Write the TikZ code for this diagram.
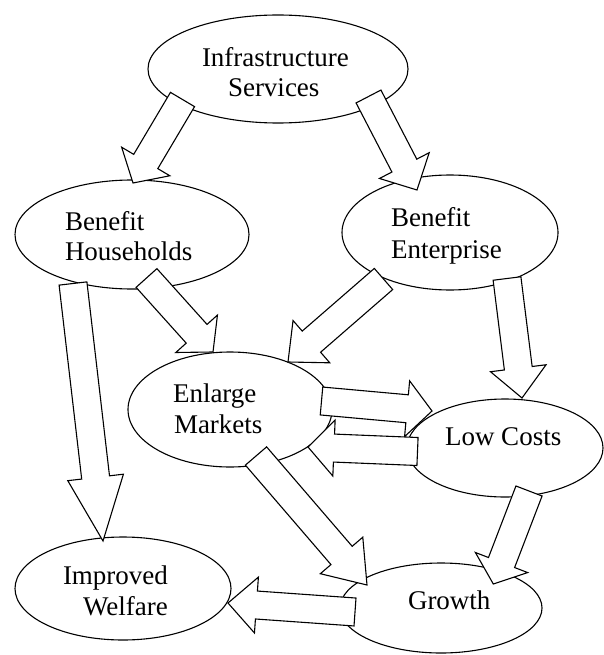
\documentclass[tikz,border=0pt]{standalone}
\usepackage{fontspec}
\setmainfont{Liberation Serif}
\usetikzlibrary{shapes.geometric,calc}
\tikzset{
  ell/.style={draw=black, line width=1.1pt, fill=white, ellipse, inner sep=0pt, outer sep=0pt},
  lbl/.style={anchor=base west, inner sep=0pt, outer sep=0pt, font=\fontsize{27}{31}\selectfont},
  barrow/.style={draw=black, line width=1.1pt, fill=white, line join=miter},
}
% block arrow: tail node, tail offset, tip node, tip offset, head length
\newcommand\blockarr[5]{%
  \coordinate (bt) at ($(#1)+(#2)$);
  \coordinate (bp) at ($(#3)+(#4)$);
  \coordinate (hb) at ($(bp)!#5pt!(bt)$);
  \draw[barrow] ($(bt)!14pt!90:(bp)$) -- ($(hb)!14pt!90:(bp)$) -- ($(hb)!28pt!90:(bp)$)
    -- (bp) -- ($(hb)!28pt!-90:(bp)$) -- ($(hb)!14pt!-90:(bp)$) -- ($(bt)!14pt!-90:(bp)$) -- cycle;}
\begin{document}
\begin{tikzpicture}[x=1pt,y=-1pt]
\useasboundingbox (0,0) rectangle (603,655);
\fill[white] (0,0) rectangle (603,655);
% ellipses
\node[ell, minimum width=260pt, minimum height=108pt] (infra) at (278,69) {};
\node[ell, minimum width=234pt, minimum height=109pt] (hh) at (132,234.5) {};
\node[ell, minimum width=216pt, minimum height=115pt] (ent) at (450,232.5) {};
\node[ell, minimum width=204pt, minimum height=115pt] (enl) at (230,409.5) {};
\node[ell, minimum width=196pt, minimum height=98pt] (lc) at (505,448) {};
\node[ell, minimum width=216pt, minimum height=103pt] (wel) at (123,588.5) {};
\node[ell, minimum width=202pt, minimum height=90pt] (gro) at (441,608) {};
% labels
\node[lbl] (infra1) at (202,67) {Infrastructure};
\node[lbl] (infra2) at (228,97) {Services};
\node[lbl] (hh1) at (65,230) {Benefit};
\node[lbl] (hh2) at (65,260) {Households};
\node[lbl] (ent1) at (391,226) {Benefit};
\node[lbl] (ent2) at (391,258) {Enterprise};
\node[lbl] (enl1) at (173,402) {Enlarge};
\node[lbl] (enl2) at (174,433) {Markets};
\node[lbl] (lc1) at (445,445) {Low Costs};
\node[lbl] (wel1) at (63,584) {Improved};
\node[lbl] (wel2) at (83,615) {Welfare};
\node[lbl] (gro1) at (408,609) {Growth};
% block arrows
\blockarr{infra}{-95.5,30.5}{hh}{1,-51.5}{25}
\blockarr{infra}{90.5,27.5}{ent}{-33,-42.5}{27.5}
\blockarr{hh}{14.5,43.5}{enl}{-17,-57.5}{24.5}
\blockarr{ent}{-66.5,46.5}{enl}{58,-47.5}{31}
\blockarr{ent}{57,46}{lc}{17,-50}{30}
\blockarr{hh}{-59,49}{wel}{-20,-47.5}{64}
\blockarr{enl}{26,46.5}{gro}{-74,-23}{39}
\blockarr{enl}{91.5,-8.5}{lc}{-73,-37}{25}
\blockarr{lc}{-87.5,3.5}{enl}{78,37.5}{26}
\blockarr{lc}{24,43}{gro}{52.3,-24}{23}
\blockarr{gro}{-86,4}{wel}{105,14.5}{28.5}
\end{tikzpicture}
\end{document}
